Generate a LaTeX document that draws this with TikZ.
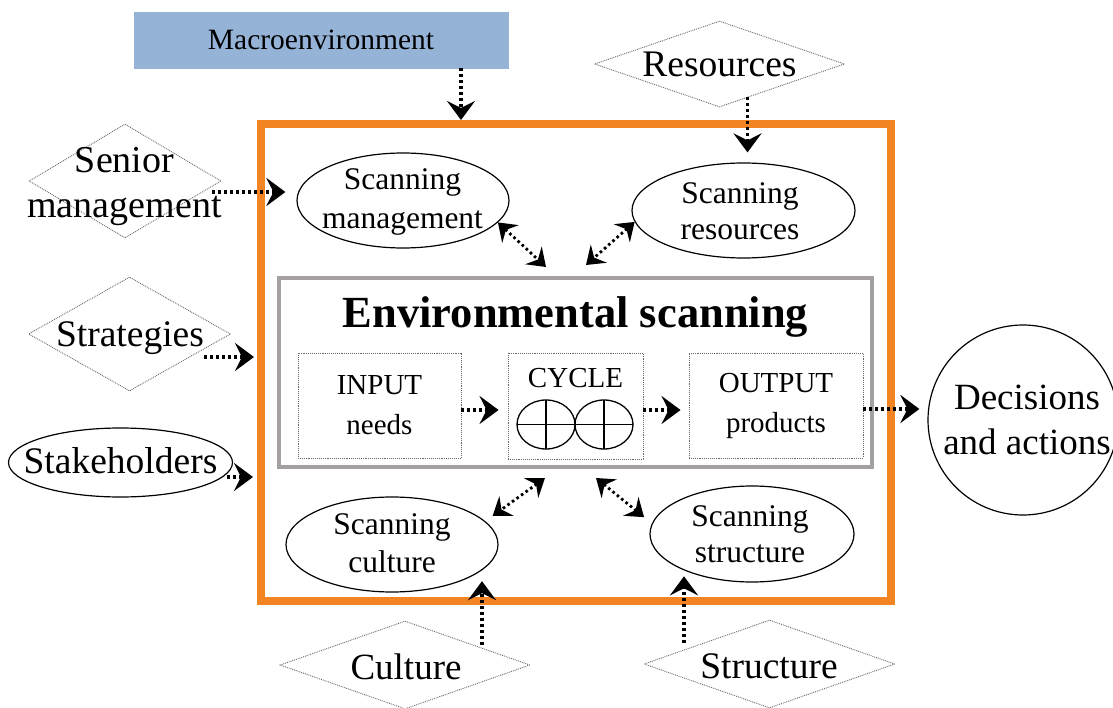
\documentclass[tikz,border=0pt]{standalone}
\usepackage{fontspec}
\setmainfont{Liberation Serif}
\usetikzlibrary{arrows.meta,shapes.geometric,calc}

\definecolor{frameorange}{RGB}{243,132,36}
\definecolor{macroblue}{RGB}{149,179,215}
\definecolor{esgray}{RGB}{166,161,161}
\definecolor{dotgray}{RGB}{105,105,105}

\tikzset{
  fsz/.style 2 args={font=\fontsize{#1}{#2}\selectfont},
  txt/.style={inner sep=0pt, align=center},
  dia/.style={shape=diamond, draw=dotgray, densely dotted, line width=0.9pt, inner sep=0pt},
  ell/.style={shape=ellipse, draw, line width=1.2pt, inner sep=0pt},
  inbox/.style={draw=dotgray, densely dotted, line width=0.9pt, inner sep=0pt, align=center},
  flow/.style={line width=3.5pt, dash pattern=on 3pt off 3pt,
    -{Stealth[length=19pt,width=28pt,inset=7pt]}},
  flowlr/.style={line width=2.8pt, dash pattern=on 2.6pt off 3pt,
    {Stealth[length=17pt,width=24pt,inset=6pt]}-{Stealth[length=17pt,width=24pt,inset=6pt]}},
}

\begin{document}
\begin{tikzpicture}[x=1pt,y=-1pt]
\useasboundingbox (0,0) rectangle (1113,708);

% outer frame and the scanning core
\node[draw=frameorange, line width=8pt, minimum width=630pt, minimum height=477pt, inner sep=0pt] (frame) at (576,362.5) {};
\node[draw=esgray, line width=4pt, minimum width=593pt, minimum height=189pt, inner sep=0pt] (es) at (575.5,372.5) {};
\node[txt, font=\fontsize{44.5}{50}\selectfont\bfseries] (estitle) at (575.5,316.5) {Environmental scanning};

% input / cycle / output
\node[inbox, minimum width=163pt, minimum height=105pt, fsz={29}{40}] (in) at (379.5,405.5) {INPUT\\needs};
\node[inbox, minimum width=135pt, minimum height=106pt] (cyc) at (575.5,406) {};
\node[txt, fsz={29}{34}, anchor=base] (cyct) at (575.5,387) {CYCLE};
\node[inbox, minimum width=174pt, minimum height=105pt, fsz={29}{40}] (out) at (776,405.5) {OUTPUT\\products};

% the two quartered circles of the cycle
\draw[line width=1.3pt] (546,424.5) ellipse [x radius=29pt, y radius=24.5pt];
\draw[line width=1.3pt] (604,424.5) ellipse [x radius=29pt, y radius=24.5pt];
\draw[line width=1.3pt] (517,424.5) -- (633,424.5);
\draw[line width=1.3pt] (546,400) -- (546,449);
\draw[line width=1.3pt] (604,400) -- (604,449);

% macro environment
\node[fill=macroblue, draw=macroblue, minimum width=374pt, minimum height=56pt, inner sep=0pt, fsz={29.5}{35}] (macro) at (321,40) {Macroenvironment};

% external influences
\node[dia, minimum width=192pt, minimum height=114pt] (sen) at (125,181) {};
\node[txt, fsz={38}{45}] (sent) at (124.5,186.6) {Senior\\management};
\node[dia, minimum width=202pt, minimum height=114pt] (strat) at (129.5,334) {};
\node[txt, fsz={37.5}{45}] (stratt) at (130,338.3) {Strategies};
\node[ell, minimum width=224pt, minimum height=69pt] (stk) at (120.5,462.5) {};
\node[txt, fsz={37.5}{45}] (stkt) at (120.5,460.2) {Stakeholders};
\node[dia, minimum width=250pt, minimum height=86pt] (res) at (719.5,64) {};
\node[txt, fsz={37.5}{45}] (rest) at (719.5,64.6) {Resources};
\node[dia, minimum width=250pt, minimum height=88pt] (cul) at (405,665) {};
\node[txt, fsz={37}{45}] (cult) at (406,666.4) {Culture};
\node[dia, minimum width=251pt, minimum height=88pt] (stc) at (769.5,664) {};
\node[txt, fsz={37.5}{45}] (stct) at (769,666) {Structure};

% scanning components
\node[ell, minimum width=212pt, minimum height=95pt] (sm) at (403,200.5) {};
\node[txt, fsz={31.5}{39}] (smt) at (402.5,201.7) {Scanning\\management};
\node[ell, minimum width=223pt, minimum height=95pt] (sr) at (743.5,210.5) {};
\node[txt, fsz={31.5}{36}] (srt) at (740,211.7) {Scanning\\resources};
\node[ell, minimum width=212pt, minimum height=95pt] (sc) at (392,544.5) {};
\node[txt, fsz={31.5}{38}] (sct) at (392,543) {Scanning\\culture};
\node[ell, minimum width=204pt, minimum height=96pt] (ss) at (752,534) {};
\node[txt, fsz={31.5}{36}] (sst) at (750,534) {Scanning\\structure};

% result
\node[draw, shape=circle, line width=1.2pt, minimum size=190pt, inner sep=0pt] (dec) at (1023,420) {};
\node[txt, fsz={37}{45}] (dect) at (1027,420) {Decisions\\and actions};

% influence arrows
\draw[flow] ($(macro.south)+(140,0)$) coordinate (m1) -- (m1 |- frame.north);
\draw[flow, shorten >=10pt] ($(res.center)+(28,33)$) coordinate (r1) -- (r1 |- sr.north);
\draw[flow, shorten >=11pt] ($(sen.center)+(87,11)$) coordinate (s1) -- (s1 -| sm.west);
\draw[flow, shorten >=3pt] ($(strat.center)+(74.5,23)$) coordinate (t1) -- (t1 -| frame.west);
\draw[flow, shorten >=4pt] ($(stk.center)+(106.5,14.5)$) coordinate (k1) -- (k1 -| frame.west);
\draw[flow] ($(cul.center)+(77,-20)$) coordinate (u1) -- (u1 |- sc.-28);
\draw[flow] ($(stc.center)+(-85.5,-21)$) coordinate (v1) -- (v1 |- ss.-140);

% process flow
\draw[flow, shorten >=9pt] ($(in.east)+(0,4.5)$) coordinate (i1) -- (i1 -| cyc.west);
\draw[flow, shorten >=8pt] ($(cyc.east)+(0,4)$) coordinate (c1) -- (c1 -| out.west);
\draw[flow, shorten >=8pt] ($(out.east)+(0,3.5)$) coordinate (o1) -- (o1 -| dec.west);

% two-way links with the core
\draw[flowlr] (sm.-13) -- ($(es.north)+(-29.5,-9)$);
\draw[flowlr] (sr.186) -- ($(es.north)+(10.5,-11)$);
\draw[flowlr, shorten >=9pt] ($(es.south)+(-30.5,9)$) -- (sc.14);
\draw[flowlr, shorten >=10pt] ($(es.south)+(20.5,9)$) -- (ss.174);

\end{tikzpicture}
\end{document}
